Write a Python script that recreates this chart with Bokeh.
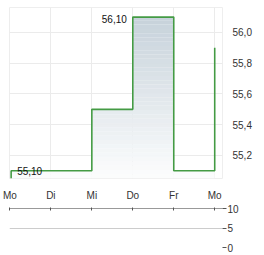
import numpy as np
from bokeh.plotting import figure
from bokeh.layouts import column
from bokeh.models import FixedTicker, Range1d
from bokeh.embed import file_html
from bokeh.resources import INLINE

# ---- data ----
day_labels = ["Mo", "Di", "Mi", "Do", "Fr", "Mo"]
day_pos = [0, 1, 2, 3, 4, 5]
step_x = [0.03, 0.03, 2, 3, 4, 5]
step_y = [55.05, 55.10, 55.50, 56.10, 55.10, 55.90]
price_ticks = [55.2, 55.4, 55.6, 55.8, 56.0]
price_tick_labels = ["55,2", "55,4", "55,6", "55,8", "56,0"]
vol_ticks = [0, 5, 10]
vol_tick_labels = ["0", "5", "10"]
hi_label = "56,10"
lo_label = "55,10"

FONT = "Liberation Sans"
TXT = "#333333"
GRID = "#ebebeb"

Y0, Y1 = 55.05, 56.1625
X0, X1 = -0.01, 5.19

p = figure(width=264, height=203, x_range=Range1d(X0, X1), y_range=Range1d(Y0, Y1),
           output_backend="svg", toolbar_location=None, y_axis_location="right",
           min_border_left=9, min_border_right=42, min_border_top=7, min_border_bottom=18)
p.outline_line_color = "#eeeeee"
p.background_fill_color = "white"
p.border_fill_color = "white"

# gradient fill under the step line (bands)
n = 40
edges = np.linspace(Y0, Y1, n + 1)
top_c = np.array([190, 203, 213])
bot_c = np.array([252, 253, 253])
sy = np.array(step_y)
for k in range(n):
    t0, t1 = edges[k], edges[k + 1]
    f = (k + 0.5) / n
    c = bot_c + (top_c - bot_c) * f
    col = "#%02x%02x%02x" % tuple(int(round(v)) for v in c)
    y2 = np.clip(sy, t0, t1)
    if np.all(y2 <= t0):
        continue
    p.varea_step(x=step_x, y1=[t0] * len(step_x), y2=list(y2), step_mode="after",
                 fill_color=col, fill_alpha=0.92)

p.step(step_x, step_y, mode="after", line_color="#449b44", line_width=1.6)

# min / max labels
i_max = int(np.argmax(sy))
i_min = 1
p.text(x=[step_x[i_max]], y=[step_y[i_max]], text=[hi_label], text_align="right",
       text_baseline="middle", x_offset=-6, y_offset=2, text_font_size="10px",
       text_font={"value": FONT}, text_color="#111111")
p.text(x=[step_x[i_min]], y=[step_y[i_min]], text=[lo_label], text_align="left",
       text_baseline="middle", x_offset=6, y_offset=0, text_font_size="10px",
       text_font={"value": FONT}, text_color="#111111")

p.xaxis.ticker = FixedTicker(ticks=day_pos)
p.xaxis.major_label_overrides = {d: l for d, l in zip(day_pos, day_labels)}
p.yaxis.ticker = FixedTicker(ticks=price_ticks)
p.yaxis.major_label_overrides = {t: l for t, l in zip(price_ticks, price_tick_labels)}
for ax in (p.xaxis, p.yaxis):
    ax.axis_line_color = None
    ax.major_tick_line_color = None
    ax.minor_tick_line_color = None
    ax.major_label_text_font = FONT
    ax.major_label_text_font_size = "10px"
    ax.major_label_text_color = TXT
p.xaxis.major_label_standoff = 5
p.yaxis.major_label_standoff = 4
p.xgrid.grid_line_color = GRID
p.ygrid.grid_line_color = GRID
p.xgrid.ticker = FixedTicker(ticks=day_pos)
p.ygrid.ticker = FixedTicker(ticks=price_ticks)

# ---- volume panel ----
v = figure(width=264, height=52, x_range=p.x_range, y_range=Range1d(0, 10),
           output_backend="svg", toolbar_location=None, y_axis_location="right",
           x_axis_location="above",
           min_border_left=9, min_border_right=42, min_border_top=5, min_border_bottom=8)
v.outline_line_color = None
v.xgrid.grid_line_color = None
v.ygrid.grid_line_color = "#cccccc"
v.ygrid.ticker = FixedTicker(ticks=vol_ticks)
v.xaxis.ticker = FixedTicker(ticks=day_pos)
v.xaxis.axis_line_color = "#999999"
v.xaxis.major_tick_line_color = "#555555"
v.xaxis.major_tick_in = 2
v.xaxis.major_tick_out = 1
v.xaxis.minor_tick_line_color = None
v.xaxis.major_label_overrides = {d: "" for d in day_pos}
v.xaxis.major_label_standoff = 0
v.yaxis.ticker = FixedTicker(ticks=vol_ticks)
v.yaxis.major_label_overrides = {t: l for t, l in zip(vol_ticks, vol_tick_labels)}
v.yaxis.axis_line_color = None
v.yaxis.major_tick_line_color = "#555555"
v.yaxis.major_tick_out = 4
v.yaxis.major_tick_in = 0
v.yaxis.minor_tick_line_color = None
v.yaxis.major_label_standoff = 1
v.yaxis.major_label_text_font = FONT
v.yaxis.major_label_text_font_size = "10px"
v.yaxis.major_label_text_color = TXT

layout = column(p, v, spacing=0)
open("out.html", "w").write(file_html(layout, INLINE))
